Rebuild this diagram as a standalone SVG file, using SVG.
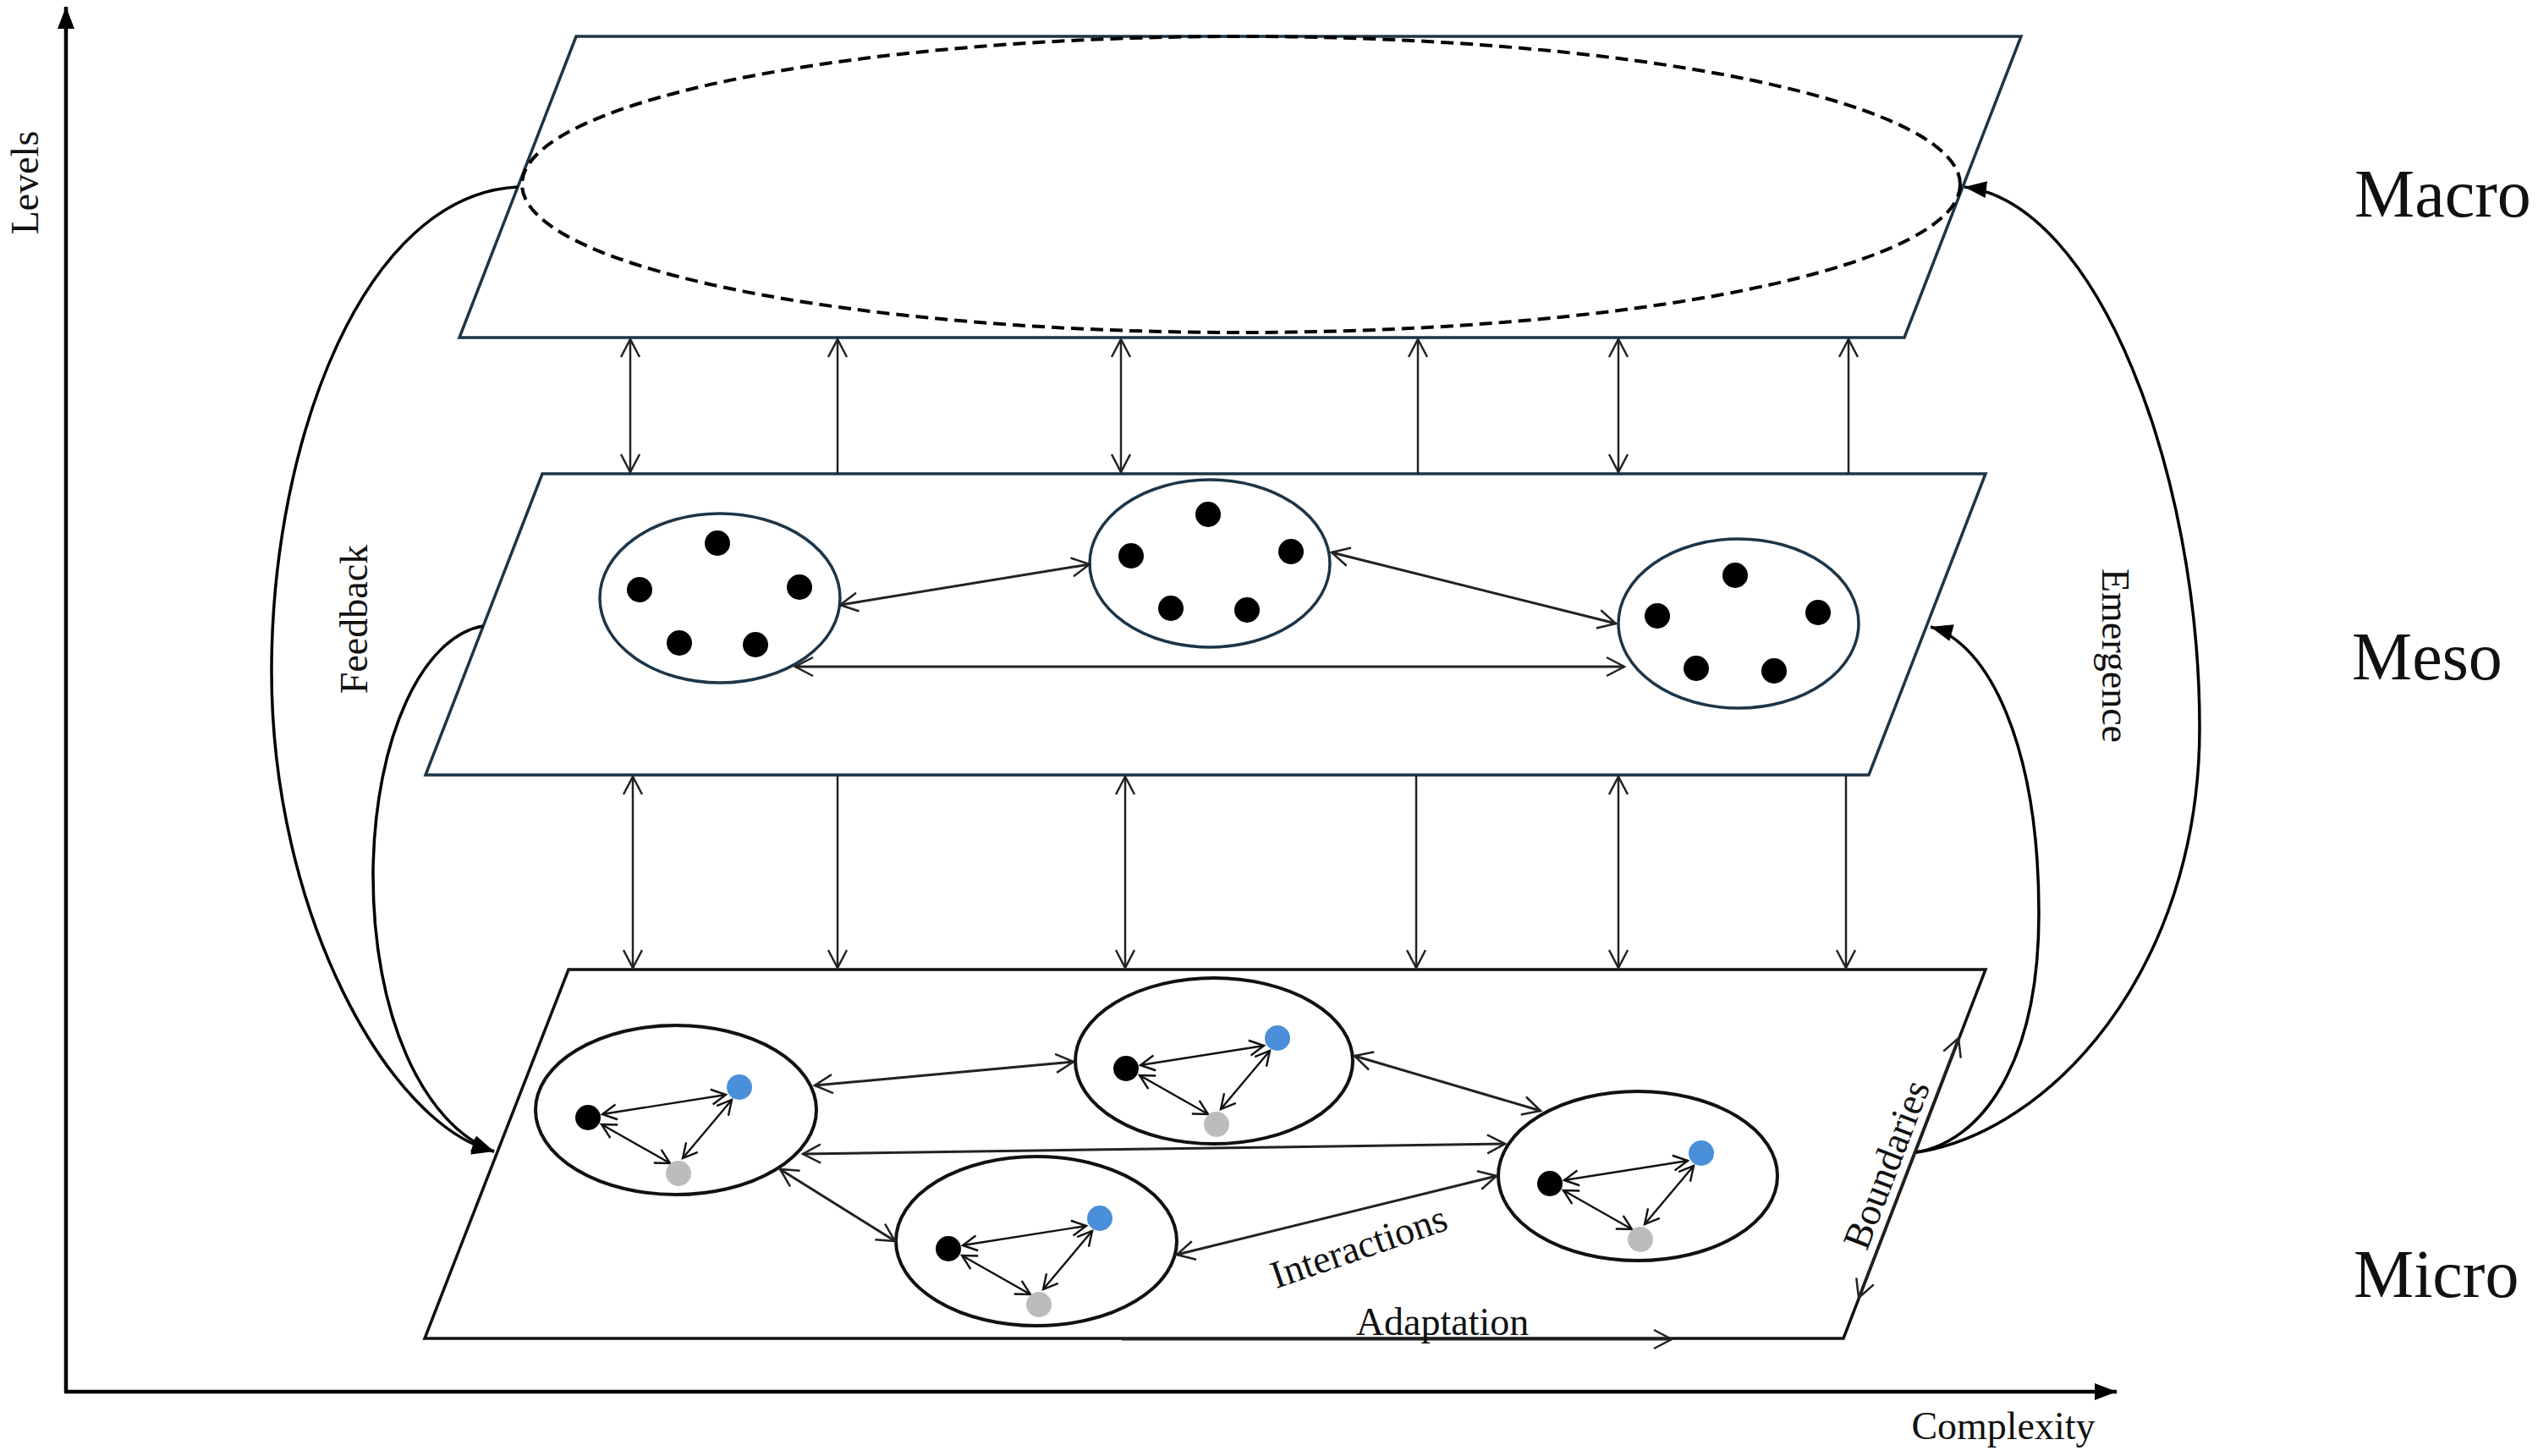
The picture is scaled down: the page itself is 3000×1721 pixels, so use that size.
<svg xmlns="http://www.w3.org/2000/svg" width="3000" height="1721" viewBox="0 0 3000 1721">
<defs>
<style>
.lbl{font-family:"Liberation Serif","Times New Roman",serif;font-size:46px;fill:#111}
.lvl{font-family:"Liberation Serif","Times New Roman",serif;font-size:80px;fill:#111}
.plane{fill:none;stroke:#1d3547;stroke-width:3.5;stroke-linejoin:miter}
.plane-k{fill:none;stroke:#111;stroke-width:3.5}
.mell{fill:none;stroke:#1d3547;stroke-width:3.5}
.uell{fill:none;stroke:#111;stroke-width:4}
.dot{fill:#000}
.blue{fill:#4a8fd9}
.gray{fill:#bcbcbc}
.v{stroke:#222;stroke-width:2.5;fill:none}
.c{stroke:#222;stroke-width:3;fill:none}
.ci{stroke:#111;stroke-width:2.4;fill:none}
.curve{stroke:#000;stroke-width:3.5;fill:none}
.axis{stroke:#000;stroke-width:4.5;fill:none}
</style>
<marker id="oa" markerUnits="userSpaceOnUse" markerWidth="26" markerHeight="28" viewBox="-23 -14 26 28" refX="0" refY="0" orient="auto-start-reverse">
<path d="M-21,-11 L0,0 L-21,11" fill="none" stroke="#222" stroke-width="2.5"/>
</marker>
<marker id="os" markerUnits="userSpaceOnUse" markerWidth="22" markerHeight="22" viewBox="-19 -11 22 22" refX="0" refY="0" orient="auto-start-reverse">
<path d="M-17,-9 L0,0 L-17,9" fill="none" stroke="#111" stroke-width="2.4"/>
</marker>
<marker id="fa" markerUnits="userSpaceOnUse" markerWidth="30" markerHeight="24" viewBox="-28 -12 30 24" refX="0" refY="0" orient="auto">
<path d="M-26,-10 L0,0 L-26,10 Z" fill="#000"/>
</marker>
</defs>
<rect width="3000" height="1721" fill="#fff"/>

<g id="axes">
<line class="axis" x1="78" y1="1645" x2="78" y2="8" marker-end="url(#fa)"/>
<line class="axis" x1="76" y1="1645" x2="2502" y2="1645" marker-end="url(#fa)"/>
<text class="lbl" transform="translate(45,216) rotate(-90)" text-anchor="middle">Levels</text>
<text class="lbl" x="2368" y="1701" text-anchor="middle">Complexity</text>
</g>

<g id="macro">
<polygon class="plane" points="681,43 2389,43 2251,399 543,399"/>
<ellipse cx="1467" cy="218" rx="850" ry="175" fill="none" stroke="#000" stroke-width="4" stroke-dasharray="15 8"/>
<text class="lvl" x="2783" y="256">Macro</text>
</g>

<g id="meso">
<polygon class="plane" points="641,560 2347,560 2209,916 503,916"/>
<text class="lvl" x="2780" y="803">Meso</text>
</g>

<g id="meso-cluster-1">
<ellipse class="mell" cx="851" cy="707" rx="142" ry="100"/>
<circle class="dot" cx="848" cy="642" r="15"/><circle class="dot" cx="756" cy="697" r="15"/><circle class="dot" cx="945" cy="694" r="15"/><circle class="dot" cx="803" cy="760" r="15"/><circle class="dot" cx="893" cy="762" r="15"/>
</g>
<g id="meso-cluster-2">
<ellipse class="mell" cx="1430" cy="666" rx="142" ry="99"/>
<circle class="dot" cx="1428" cy="608" r="15"/><circle class="dot" cx="1337" cy="657" r="15"/><circle class="dot" cx="1526" cy="652" r="15"/><circle class="dot" cx="1384" cy="719" r="15"/><circle class="dot" cx="1474" cy="721" r="15"/>
</g>
<g id="meso-cluster-3">
<ellipse class="mell" cx="2055" cy="737" rx="142" ry="100"/>
<circle class="dot" cx="2051" cy="680" r="15"/><circle class="dot" cx="1959" cy="728" r="15"/><circle class="dot" cx="2149" cy="724" r="15"/><circle class="dot" cx="2005" cy="790" r="15"/><circle class="dot" cx="2097" cy="793" r="15"/>
</g>

<g id="micro">
<polygon class="plane-k" points="672,1146 2347,1146 2179,1582 502,1582"/>
<text class="lvl" x="2782" y="1533">Micro</text>
</g>

<g id="micro-cluster-1" transform="translate(695,1321)">
<ellipse class="uell" cx="104" cy="-9" rx="166" ry="100"/>
<line class="ci" x1="17" y1="-4" x2="163" y2="-27" marker-start="url(#os)" marker-end="url(#os)"/>
<line class="ci" x1="16" y1="8" x2="97" y2="54" marker-start="url(#os)" marker-end="url(#os)"/>
<line class="ci" x1="170" y1="-21" x2="112" y2="48" marker-start="url(#os)" marker-end="url(#os)"/>
<circle class="dot" cx="0" cy="0" r="15"/><circle class="blue" cx="179" cy="-36" r="15"/><circle class="gray" cx="107" cy="66" r="15"/>
</g>
<g id="micro-cluster-2" transform="translate(1331,1263)">
<ellipse class="uell" cx="104" cy="-9" rx="164" ry="98"/>
<line class="ci" x1="17" y1="-4" x2="163" y2="-27" marker-start="url(#os)" marker-end="url(#os)"/>
<line class="ci" x1="16" y1="8" x2="97" y2="54" marker-start="url(#os)" marker-end="url(#os)"/>
<line class="ci" x1="170" y1="-21" x2="112" y2="48" marker-start="url(#os)" marker-end="url(#os)"/>
<circle class="dot" cx="0" cy="0" r="15"/><circle class="blue" cx="179" cy="-36" r="15"/><circle class="gray" cx="107" cy="66" r="15"/>
</g>
<g id="micro-cluster-3" transform="translate(1121,1476)">
<ellipse class="uell" cx="104" cy="-9" rx="166" ry="100"/>
<line class="ci" x1="17" y1="-4" x2="163" y2="-27" marker-start="url(#os)" marker-end="url(#os)"/>
<line class="ci" x1="16" y1="8" x2="97" y2="54" marker-start="url(#os)" marker-end="url(#os)"/>
<line class="ci" x1="170" y1="-21" x2="112" y2="48" marker-start="url(#os)" marker-end="url(#os)"/>
<circle class="dot" cx="0" cy="0" r="15"/><circle class="blue" cx="179" cy="-36" r="15"/><circle class="gray" cx="107" cy="66" r="15"/>
</g>
<g id="micro-cluster-4" transform="translate(1832,1399)">
<ellipse class="uell" cx="104" cy="-9" rx="165" ry="100"/>
<line class="ci" x1="17" y1="-4" x2="163" y2="-27" marker-start="url(#os)" marker-end="url(#os)"/>
<line class="ci" x1="16" y1="8" x2="97" y2="54" marker-start="url(#os)" marker-end="url(#os)"/>
<line class="ci" x1="170" y1="-21" x2="112" y2="48" marker-start="url(#os)" marker-end="url(#os)"/>
<circle class="dot" cx="0" cy="0" r="15"/><circle class="blue" cx="179" cy="-36" r="15"/><circle class="gray" cx="107" cy="66" r="15"/>
</g>

<g id="connectors">
<!-- macro <-> meso -->
<line class="v" x1="745" y1="401" x2="745" y2="558" marker-start="url(#oa)" marker-end="url(#oa)"/>
<line class="v" x1="990" y1="560" x2="990" y2="401" marker-end="url(#oa)"/>
<line class="v" x1="1325" y1="401" x2="1325" y2="558" marker-start="url(#oa)" marker-end="url(#oa)"/>
<line class="v" x1="1676" y1="560" x2="1676" y2="401" marker-end="url(#oa)"/>
<line class="v" x1="1913" y1="401" x2="1913" y2="558" marker-start="url(#oa)" marker-end="url(#oa)"/>
<line class="v" x1="2185" y1="560" x2="2185" y2="401" marker-end="url(#oa)"/>
<!-- meso <-> micro -->
<line class="v" x1="748" y1="918" x2="748" y2="1144" marker-start="url(#oa)" marker-end="url(#oa)"/>
<line class="v" x1="990" y1="916" x2="990" y2="1144" marker-end="url(#oa)"/>
<line class="v" x1="1330" y1="918" x2="1330" y2="1144" marker-start="url(#oa)" marker-end="url(#oa)"/>
<line class="v" x1="1674" y1="916" x2="1674" y2="1144" marker-end="url(#oa)"/>
<line class="v" x1="1913" y1="918" x2="1913" y2="1144" marker-start="url(#oa)" marker-end="url(#oa)"/>
<line class="v" x1="2182" y1="916" x2="2182" y2="1144" marker-end="url(#oa)"/>
<!-- meso cluster links -->
<line class="c" x1="993" y1="715" x2="1288" y2="667" marker-start="url(#oa)" marker-end="url(#oa)"/>
<line class="c" x1="1574" y1="653" x2="1910" y2="737" marker-start="url(#oa)" marker-end="url(#oa)"/>
<line class="c" x1="940" y1="788" x2="1920" y2="788" marker-start="url(#oa)" marker-end="url(#oa)"/>
<!-- micro cluster links -->
<line class="c" x1="963" y1="1283" x2="1269" y2="1255" marker-start="url(#oa)" marker-end="url(#oa)"/>
<line class="c" x1="949" y1="1364" x2="1779" y2="1352" marker-start="url(#oa)" marker-end="url(#oa)"/>
<line class="c" x1="922" y1="1382" x2="1058" y2="1467" marker-start="url(#oa)" marker-end="url(#oa)"/>
<line class="c" x1="1601" y1="1248" x2="1821" y2="1313" marker-start="url(#oa)" marker-end="url(#oa)"/>
<line class="c" x1="1391" y1="1483" x2="1769" y2="1390" marker-start="url(#oa)" marker-end="url(#oa)"/>
<!-- adaptation / boundaries -->
<line class="c" x1="1326" y1="1583" x2="1976" y2="1583" marker-end="url(#oa)"/>
<line class="c" x1="2315" y1="1227" x2="2197" y2="1534" marker-start="url(#oa)" marker-end="url(#oa)"/>
<!-- feedback curves -->
<path class="curve" d="M612,221 C430,230 322,520 321,790 C320,1080 460,1330 584,1361" marker-end="url(#fa)"/>
<path class="curve" d="M571,740 C500,752 443,870 441,1030 C440,1200 500,1330 584,1361" marker-end="url(#fa)"/>
<!-- emergence curves -->
<path class="curve" d="M2265,1362 C2420,1340 2600,1150 2600,860 C2600,560 2480,240 2322,221" marker-end="url(#fa)"/>
<path class="curve" d="M2265,1362 C2340,1350 2410,1260 2410,1080 C2410,880 2350,760 2282,741" marker-end="url(#fa)"/>
</g>

<g id="labels">
<text class="lbl" transform="translate(434,732) rotate(-90)" text-anchor="middle">Feedback</text>
<text class="lbl" transform="translate(2485,775) rotate(90)" text-anchor="middle">Emergence</text>
<text class="lbl" transform="translate(1611,1488) rotate(-19)" text-anchor="middle">Interactions</text>
<text class="lbl" x="1705" y="1578" text-anchor="middle">Adaptation</text>
<text class="lbl" transform="translate(2244,1382) rotate(-69)" text-anchor="middle">Boundaries</text>
</g>
</svg>
